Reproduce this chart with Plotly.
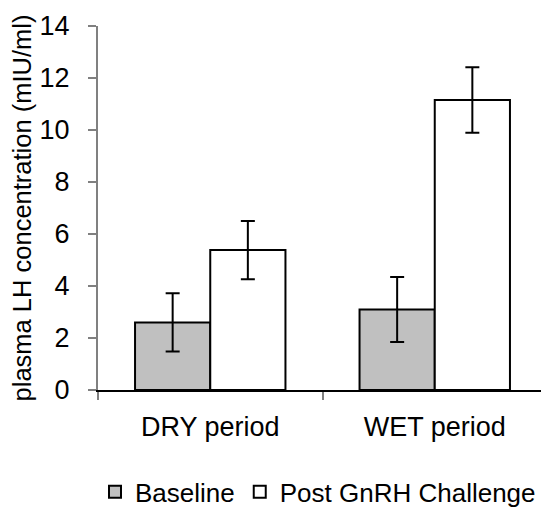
import plotly.graph_objects as go

categories = ["DRY period", "WET period"]
baseline = [2.6, 3.1]
baseline_err = [1.12, 1.25]
post = [5.38, 11.15]
post_err = [1.12, 1.26]
y_ticks = [0, 2, 4, 6, 8, 10, 12, 14]

fam = "Liberation Sans, Arial, sans-serif"
font = dict(family=fam, size=27, color="black")
legend_font = dict(family=fam, size=26, color="black")
title_font = dict(family=fam, size=25.5, color="black")

fig = go.Figure()
fig.add_trace(go.Bar(
    x=categories, y=baseline, name="Baseline",
    marker=dict(color="#c0c0c0", line=dict(color="black", width=2)),
    error_y=dict(type="data", array=baseline_err, color="black", thickness=2, width=7),
))
fig.add_trace(go.Bar(
    x=categories, y=post, name="Post GnRH Challenge",
    marker=dict(color="white", line=dict(color="black", width=2)),
    error_y=dict(type="data", array=post_err, color="black", thickness=2, width=7),
))

# page body has an 8px margin, so the figure is sized/positioned to compensate
fig.update_layout(
    template="none",
    width=541, height=508,
    margin=dict(l=90, r=2, t=18, b=126, autoexpand=False),
    paper_bgcolor="white", plot_bgcolor="white",
    font=font,
    barmode="group", bargap=0.33, bargroupgap=0,
    showlegend=True,
    legend=dict(orientation="h", x=0.49, xanchor="center", y=-0.28, yanchor="middle",
                font=legend_font, traceorder="normal", itemwidth=30,
                bgcolor="rgba(0,0,0,0)"),
    xaxis=dict(showline=True, linecolor="black", linewidth=1.5, ticks="outside",
               tickson="boundaries", ticklen=8, tickcolor="#808080", tickwidth=2,
               showgrid=False, tickfont=font, automargin=False, ticklabelstandoff=12),
    yaxis=dict(range=[0, 14], tickvals=y_ticks, showline=True, linecolor="#808080",
               linewidth=2, ticks="outside", ticklen=8, tickcolor="#808080", tickwidth=1.5,
               showgrid=False, zeroline=False, tickfont=font, automargin=False,
               ticklabelstandoff=13,
               title=dict(text="plasma LH concentration (mIU/ml)", font=title_font, standoff=6)),
)

fig.write_html("out.html")
